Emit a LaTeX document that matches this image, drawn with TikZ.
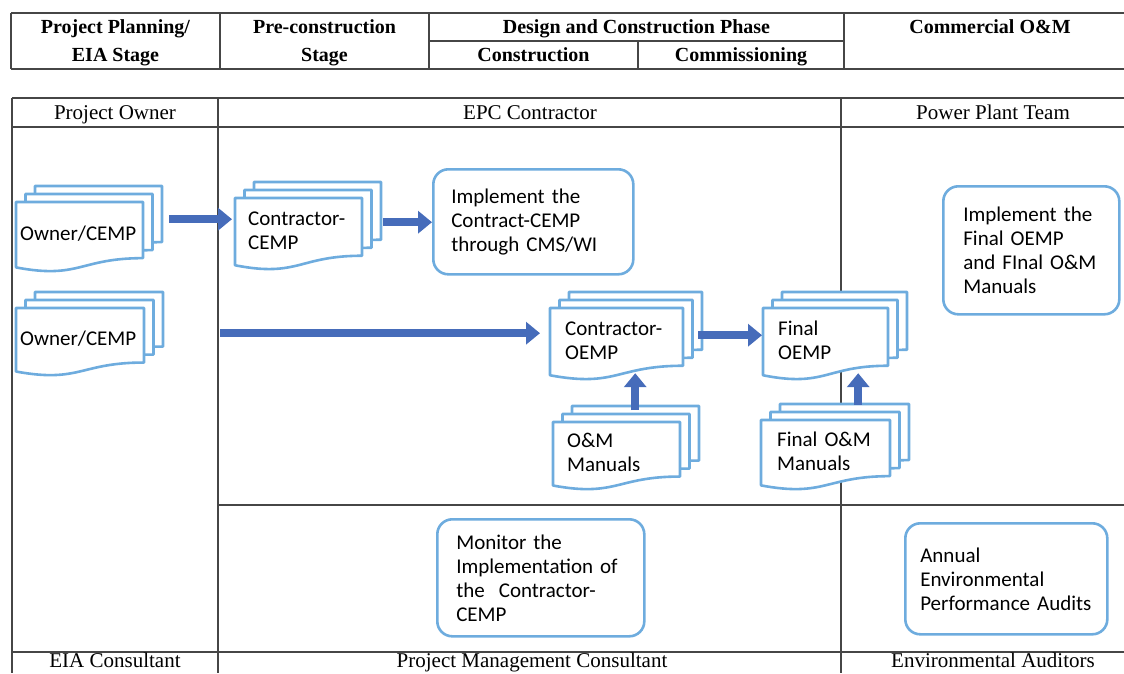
\documentclass[tikz,border=0pt]{standalone}
\usepackage{fontspec}
\setmainfont{Liberation Serif}
\newfontfamily\bodyfont{Carlito}
\usetikzlibrary{arrows.meta,calc}
\definecolor{docblue}{RGB}{110,172,222}
\definecolor{arrowblue}{RGB}{70,108,186}
\definecolor{gridgray}{RGB}{70,70,70}
\tikzset{
  tableline/.style={draw=gridgray,line width=1.3pt},
  head/.style={font=\fontsize{20}{28}\selectfont\bfseries,align=center},
  headone/.style={head,text height=14pt,text depth=5pt},
  lane/.style={font=\fontsize{21}{24}\selectfont,text height=14pt,text depth=5pt},
  docline/.style={draw=docblue,line width=2.6pt,fill=white,line join=round},
  docnode/.style={font=\bodyfont\fontsize{21}{24}\selectfont,align=left,inner ysep=0pt},
  task/.style={draw=docblue,line width=2.6pt,rounded corners=15pt,fill=white,%
    font=\bodyfont\fontsize{21}{24}\selectfont,align=left,anchor=north west},
  flow/.style={-{Triangle[length=14pt,width=22pt]},line width=8.5pt,draw=arrowblue},
}
% stack of three documents, front one named #2, top left corner at #3
\newcommand\multidoc[6][15]{%
  \foreach \s in {2,1,0}{%
    \pgfmathsetmacro\dkx{\s*9.5}\pgfmathsetmacro\dky{-\s*8}%
    \draw[docline,shift={(#3)}] (\dkx,\dky) -- (\dkx+#4,\dky) -- (\dkx+#4,\dky+0.802*#5)
      .. controls (\dkx+0.5*#4,\dky+0.802*#5) and (\dkx+0.5*#4,\dky+1.107*#5) .. (\dkx,\dky+0.934*#5) -- cycle;}
  \pgfmathsetmacro\dtw{#4-2*#1}\pgfmathsetmacro\dmh{0.9*#5}%
  \node[docnode,inner xsep=#1pt,text width=\dtw pt,minimum height=\dmh pt,anchor=north west] (#2) at (#3) {#6};}

\begin{document}
\begin{tikzpicture}[x=1pt,y=-1pt]
\useasboundingbox (0,0) rectangle (1124,673);

% phase table
\draw[tableline,line width=1.8pt] (11,13) -- (1124,13) (11,69) -- (1124,69) (429,41) -- (844,41);
\foreach \x in {11,220,429,844} \draw[tableline,line width=1.8pt] (\x,13) -- (\x,69);
\draw[tableline,line width=1.8pt] (638,41) -- (638,69);
\node[head] (plan) at (115.5,43) {Project Planning/\\EIA Stage};
\node[head] (pre) at (324.5,43) {Pre-construction\\Stage};
\node[headone] (design) at (636.5,29) {Design and Construction Phase};
\node[headone] (constr) at (533.5,57) {Construction};
\node[headone] (commis) at (741,57) {Commissioning};
\node[headone] (comml) at (990,29) {Commercial O\&M};

% lanes
\draw[tableline] (12,98) -- (1124,98) (12,127) -- (1124,127) (218,505) -- (1124,505) (12,652) -- (1124,652);
\foreach \x in {12,218,841} \draw[tableline] (\x,98) -- (\x,673);
\node[lane] (owner) at (115,115) {Project Owner};
\node[lane] (epc) at (530,115) {EPC Contractor};
\node[lane] (ppt) at (993,115) {Power Plant Team};
\node[lane] (eia) at (115,663) {EIA Consultant};
\node[lane] (pmc) at (532,663) {Project Management Consultant};
\node[lane] (aud) at (993,663) {Environmental Auditors};

% documents
\multidoc[4]{o1}{16,202}{127}{70}{Owner/CEMP}
\multidoc[4]{o2}{16,308}{128}{68}{Owner/CEMP}
\multidoc[13]{cc}{235,198}{127}{72}{Contractor-\\CEMP}
\multidoc{co}{550,308}{133}{72}{Contractor-\\OEMP}
\multidoc{fo}{763,308}{125}{72}{Final\\OEMP}
\multidoc[14]{om}{553,422}{127}{68}{O\&M\\Manuals}
\multidoc[16]{fom}{761,420}{129}{70}{Final O\&M\\Manuals}

% tasks
\node[task,text width=164pt,minimum height=105pt,inner xsep=18pt] (impl1) at (432,168) {Implement the\\Contract-CEMP\\through CMS/WI};
\node[task,text width=136pt,minimum height=128pt,inner xsep=20pt] (impl2) at (942,185) {Implement the\\Final OEMP\\and FInal O\&M\\Manuals};
\node[task,text width=169pt,minimum height=117pt,inner xsep=19pt] (mon) at (436,518) {Monitor the\\Implementation of\\the~ Contractor-\\CEMP};
\node[task,text width=172pt,minimum height=111pt,inner xsep=15pt] (audit) at (904,522) {Annual\\Environmental\\Performance Audits};

% arrows
\draw[flow,shorten <=26pt,shorten >=3pt] ([yshift=14.5pt]o1.east) -- ([yshift=14.5pt]o1.east -| cc.west);
\draw[flow,shorten <=21pt] ([yshift=8.4pt]cc.east) -- ([yshift=8.4pt]cc.east -| impl1.west);
\draw[flow,shorten <=76pt,shorten >=10pt] ([yshift=5.6pt]o2.east) -- ([yshift=5.6pt]o2.east -| co.west);
\draw[flow,shorten <=15pt,shorten >=1pt] ([yshift=5.4pt]co.east) -- ([yshift=5.4pt]co.east -| fo.west);
\draw[flow,shorten <=12pt] ([xshift=18.5pt]om.north) -- ([xshift=18.5pt]om.north |- co.south);
\draw[flow,shorten <=15pt] ([xshift=32.5pt]fom.north) -- ([xshift=32.5pt]fom.north |- fo.south);
\end{tikzpicture}
\end{document}
